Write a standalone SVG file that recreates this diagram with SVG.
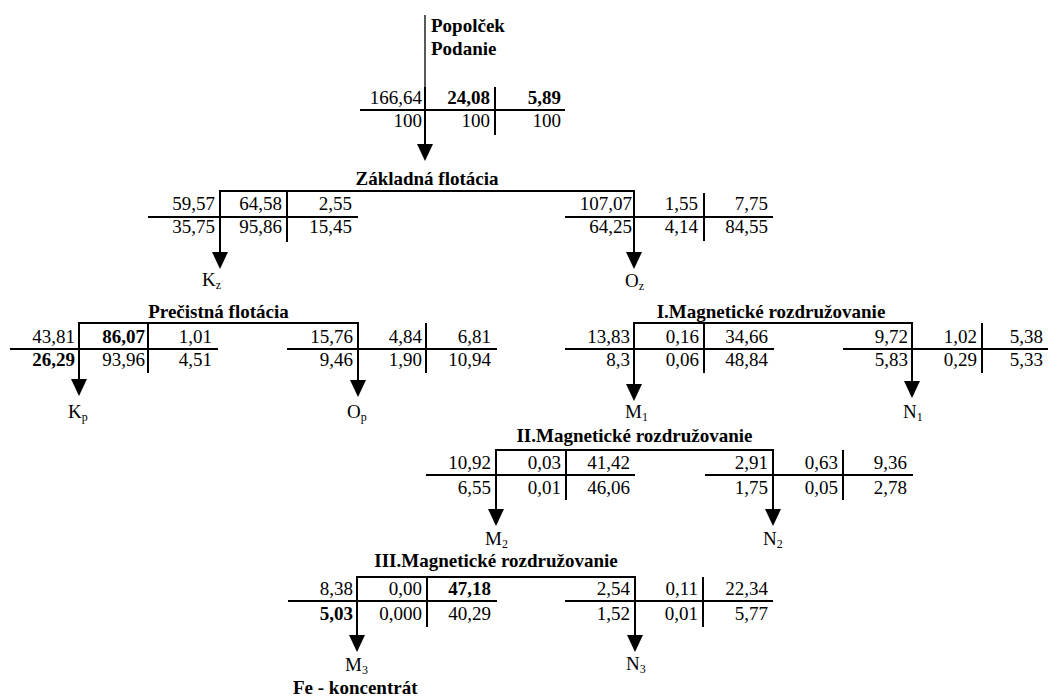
<svg xmlns="http://www.w3.org/2000/svg" width="1048" height="700" viewBox="0 0 1048 700" font-family="'Liberation Serif', 'Times New Roman', serif">
<style>
text{font-family:'Liberation Serif','Times New Roman',serif;font-size:19px;fill:#000}
.n{text-anchor:end}
.b{font-weight:bold}
.h{font-weight:bold;text-anchor:middle}
.s{font-size:12px}
.ln{stroke:#000;stroke-width:2;fill:none}
.th{stroke:#000;stroke-width:1.3;fill:none}
</style>
<defs>
<marker id="ah" markerUnits="userSpaceOnUse" markerWidth="17" markerHeight="16" viewBox="0 -8 17 16" refX="0" refY="0" orient="auto">
<path d="M0,-8 L17,0 L0,8 z" fill="#000"/>
</marker>
</defs>
<rect width="1048" height="700" fill="#fff"/>

<g id="connectors">
<line class="th" x1="425" y1="15" x2="425" y2="87"/>
<line class="ln" x1="425" y1="87" x2="425" y2="144" marker-end="url(#ah)"/>
<line class="ln" x1="220" y1="191" x2="220" y2="252" marker-end="url(#ah)"/>
<line class="ln" x1="634" y1="191" x2="634" y2="252" marker-end="url(#ah)"/>
<line class="ln" x1="79" y1="323" x2="79" y2="379" marker-end="url(#ah)"/>
<line class="ln" x1="358" y1="323" x2="358" y2="380" marker-end="url(#ah)"/>
<line class="ln" x1="634" y1="323" x2="634" y2="384" marker-end="url(#ah)"/>
<line class="ln" x1="912" y1="323" x2="912" y2="381" marker-end="url(#ah)"/>
<line class="ln" x1="496" y1="450" x2="496" y2="509" marker-end="url(#ah)"/>
<line class="ln" x1="773" y1="450" x2="773" y2="509" marker-end="url(#ah)"/>
<line class="ln" x1="357" y1="577" x2="357" y2="635" marker-end="url(#ah)"/>
<line class="ln" x1="635" y1="577" x2="635" y2="635" marker-end="url(#ah)"/>
</g>

<g id="feed">
<text class="b" x="431" y="32">Popolček</text>
<text class="b" x="431" y="55">Podanie</text>
<line class="ln" x1="360" y1="110" x2="565" y2="110"/>
<line class="ln" x1="495" y1="87" x2="495" y2="135"/>
<text class="n" x="422" y="104">166,64</text>
<text class="n b" x="490" y="104">24,08</text>
<text class="n b" x="561" y="104">5,89</text>
<text class="n" x="422" y="127">100</text>
<text class="n" x="490" y="127">100</text>
<text class="n" x="561" y="127">100</text>
</g>

<g id="zakladna">
<text class="h" x="427" y="185">Základná flotácia</text>
<line class="ln" x1="219" y1="191" x2="635" y2="191"/>
<line class="ln" x1="148" y1="217" x2="358" y2="217"/>
<line class="ln" x1="287" y1="191" x2="287" y2="242"/>
<text class="n" x="215" y="210">59,57</text>
<text class="n" x="282" y="210">64,58</text>
<text class="n" x="352" y="210">2,55</text>
<text class="n" x="215" y="233">35,75</text>
<text class="n" x="282" y="233">95,86</text>
<text class="n" x="352" y="233">15,45</text>
<line class="ln" x1="565" y1="217" x2="773" y2="217"/>
<line class="ln" x1="704" y1="193" x2="704" y2="241"/>
<text class="n" x="632" y="210">107,07</text>
<text class="n" x="698" y="210">1,55</text>
<text class="n" x="768" y="210">7,75</text>
<text class="n" x="632" y="233">64,25</text>
<text class="n" x="698" y="233">4,14</text>
<text class="n" x="768" y="233">84,55</text>
</g>
<g id="Kz"><text x="202" y="286">K<tspan class="s" dy="3">z</tspan></text></g>
<g id="Oz"><text x="625" y="287">O<tspan class="s" dy="3">z</tspan></text></g>

<g id="precistna">
<text class="h" x="218.5" y="318">Prečistná flotácia</text>
<line class="ln" x1="78" y1="323" x2="359" y2="323"/>
<line class="ln" x1="10" y1="349" x2="218" y2="349"/>
<line class="ln" x1="148" y1="323" x2="148" y2="373"/>
<text class="n" x="75" y="343">43,81</text>
<text class="n b" x="145" y="343">86,07</text>
<text class="n" x="212" y="343">1,01</text>
<text class="n b" x="75" y="366">26,29</text>
<text class="n" x="145" y="366">93,96</text>
<text class="n" x="212" y="366">4,51</text>
<line class="ln" x1="287" y1="349" x2="497" y2="349"/>
<line class="ln" x1="426" y1="323" x2="426" y2="373"/>
<text class="n" x="353" y="343">15,76</text>
<text class="n" x="422" y="343">4,84</text>
<text class="n" x="491" y="343">6,81</text>
<text class="n" x="353" y="366">9,46</text>
<text class="n" x="422" y="366">1,90</text>
<text class="n" x="491" y="366">10,94</text>
</g>
<g id="Kp"><text x="68" y="418">K<tspan class="s" dy="3">p</tspan></text></g>
<g id="Op"><text x="347" y="418">O<tspan class="s" dy="3">p</tspan></text></g>

<g id="mag1">
<text class="h" x="771" y="318">I.Magnetické rozdružovanie</text>
<line class="ln" x1="633" y1="323" x2="913" y2="323"/>
<line class="ln" x1="565" y1="349" x2="774" y2="349"/>
<line class="ln" x1="704" y1="322" x2="704" y2="373"/>
<text class="n" x="630" y="343">13,83</text>
<text class="n" x="699" y="343">0,16</text>
<text class="n" x="768" y="343">34,66</text>
<text class="n" x="630" y="366">8,3</text>
<text class="n" x="699" y="366">0,06</text>
<text class="n" x="768" y="366">48,84</text>
<line class="ln" x1="843" y1="349" x2="1048" y2="349"/>
<line class="ln" x1="982" y1="323" x2="982" y2="373"/>
<text class="n" x="908" y="343">9,72</text>
<text class="n" x="977" y="343">1,02</text>
<text class="n" x="1043" y="343">5,38</text>
<text class="n" x="908" y="366">5,83</text>
<text class="n" x="977" y="366">0,29</text>
<text class="n" x="1043" y="366">5,33</text>
</g>
<g id="M1"><text x="625" y="418">M<tspan class="s" dy="3">1</tspan></text></g>
<g id="N1"><text x="903" y="418">N<tspan class="s" dy="3">1</tspan></text></g>

<g id="mag2">
<text class="h" x="634.5" y="442">II.Magnetické rozdružovanie</text>
<line class="ln" x1="495" y1="450" x2="774" y2="450"/>
<line class="ln" x1="426" y1="475" x2="635" y2="475"/>
<line class="ln" x1="566" y1="450" x2="566" y2="500"/>
<text class="n" x="491" y="469">10,92</text>
<text class="n" x="561" y="469">0,03</text>
<text class="n" x="630" y="469">41,42</text>
<text class="n" x="491" y="494">6,55</text>
<text class="n" x="561" y="494">0,01</text>
<text class="n" x="630" y="494">46,06</text>
<line class="ln" x1="705" y1="475" x2="913" y2="475"/>
<line class="ln" x1="843" y1="450" x2="843" y2="500"/>
<text class="n" x="768" y="469">2,91</text>
<text class="n" x="838" y="469">0,63</text>
<text class="n" x="907" y="469">9,36</text>
<text class="n" x="768" y="494">1,75</text>
<text class="n" x="838" y="494">0,05</text>
<text class="n" x="907" y="494">2,78</text>
</g>
<g id="M2"><text x="485" y="545">M<tspan class="s" dy="3">2</tspan></text></g>
<g id="N2"><text x="763" y="545">N<tspan class="s" dy="3">2</tspan></text></g>

<g id="mag3">
<text class="h" x="496" y="567">III.Magnetické rozdružovanie</text>
<line class="ln" x1="356" y1="577" x2="636" y2="577"/>
<line class="ln" x1="288" y1="601" x2="497" y2="601"/>
<line class="ln" x1="427" y1="577" x2="427" y2="627"/>
<text class="n" x="353" y="595">8,38</text>
<text class="n" x="422" y="595">0,00</text>
<text class="n b" x="491" y="595">47,18</text>
<text class="n b" x="353" y="620">5,03</text>
<text class="n" x="422" y="620">0,000</text>
<text class="n" x="491" y="620">40,29</text>
<line class="ln" x1="565" y1="601" x2="773" y2="601"/>
<line class="ln" x1="703" y1="577" x2="703" y2="627"/>
<text class="n" x="630" y="595">2,54</text>
<text class="n" x="698" y="595">0,11</text>
<text class="n" x="768" y="595">22,34</text>
<text class="n" x="630" y="620">1,52</text>
<text class="n" x="698" y="620">0,01</text>
<text class="n" x="768" y="620">5,77</text>
</g>
<g id="M3"><text x="345" y="671">M<tspan class="s" dy="3">3</tspan></text>
<text class="b" x="293" y="694">Fe - koncentrát</text></g>
<g id="N3"><text x="626" y="670">N<tspan class="s" dy="3">3</tspan></text></g>
</svg>
